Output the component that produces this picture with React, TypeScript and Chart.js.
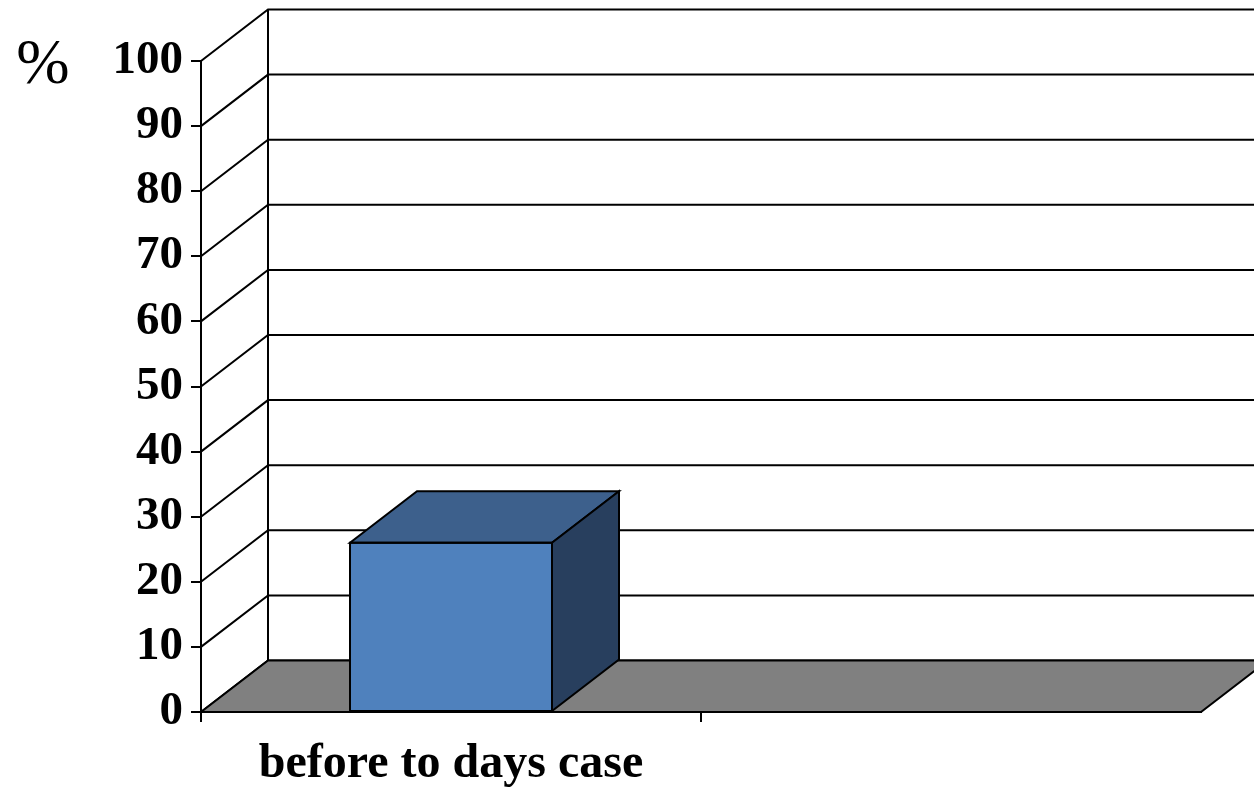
import React, { useEffect, useRef } from "react";
import { Chart, registerables } from "chart.js";

Chart.register(...registerables);

const categories = ["before to days case", ""];
const values: (number | null)[] = [26, null];
const yTickValues = [0, 10, 20, 30, 40, 50, 60, 70, 80, 90, 100];
const yUnit = "%";

const DX = 67;
const DY = -51.5;

const threeD = {
  id: "threeD",
  beforeDatasetsDraw(chart: any) {
    const { ctx, chartArea, scales } = chart;
    const y = scales.y;
    const left = chartArea.left;
    const right = chartArea.right;
    const y0 = y.getPixelForValue(0);
    const y100 = y.getPixelForValue(100);
    ctx.save();
    ctx.strokeStyle = "#000";
    ctx.lineWidth = 2;
    for (const v of yTickValues) {
      const yy = y.getPixelForValue(v);
      ctx.beginPath();
      ctx.moveTo(left, yy);
      ctx.lineTo(left + DX, yy + DY);
      ctx.lineTo(chart.width + 10, yy + DY);
      ctx.stroke();
    }
    ctx.beginPath();
    ctx.moveTo(left + DX, y0 + DY);
    ctx.lineTo(left + DX, y100 + DY);
    ctx.stroke();
    ctx.beginPath();
    ctx.moveTo(left, y0);
    ctx.lineTo(right, y0);
    ctx.lineTo(right + DX, y0 + DY);
    ctx.lineTo(left + DX, y0 + DY);
    ctx.closePath();
    ctx.fillStyle = "#808080";
    ctx.fill();
    ctx.stroke();
    ctx.fillStyle = "#000";
    ctx.font = "64px 'Liberation Serif'";
    ctx.textAlign = "center";
    ctx.textBaseline = "alphabetic";
    ctx.fillText(yUnit, 43, 83);
    ctx.restore();
  },
  afterDatasetsDraw(chart: any) {
    const { ctx } = chart;
    const meta = chart.getDatasetMeta(0);
    ctx.save();
    ctx.strokeStyle = "#000";
    ctx.lineWidth = 2;
    ctx.lineJoin = "miter";
    meta.data.forEach((el: any, i: number) => {
      if (values[i] === null || values[i] === undefined) return;
      const p = el.getProps(["x", "y", "base", "width"], true);
      const l = p.x - p.width / 2;
      const r = p.x + p.width / 2;
      const t = p.y;
      const b = p.base;
      ctx.beginPath();
      ctx.moveTo(l, t);
      ctx.lineTo(r, t);
      ctx.lineTo(r + DX, t + DY);
      ctx.lineTo(l + DX, t + DY);
      ctx.closePath();
      ctx.fillStyle = "#3D608C";
      ctx.fill();
      ctx.stroke();
      ctx.beginPath();
      ctx.moveTo(r, t);
      ctx.lineTo(r + DX, t + DY);
      ctx.lineTo(r + DX, b + DY);
      ctx.lineTo(r, b);
      ctx.closePath();
      ctx.fillStyle = "#283F5E";
      ctx.fill();
      ctx.stroke();
      ctx.strokeRect(l, t, r - l, b - t);
    });
    ctx.restore();
  },
};

export default function App() {
  const ref = useRef<HTMLCanvasElement | null>(null);
  useEffect(() => {
    document.body.style.margin = "0";
    const canvas = ref.current;
    if (!canvas) return;
    const chart = new Chart(canvas, {
      type: "bar",
      data: {
        labels: categories,
        datasets: [
          {
            data: values as any,
            backgroundColor: "#4F81BD",
            borderWidth: 0,
            categoryPercentage: 1,
            barPercentage: 0.404,
          },
        ],
      },
      options: {
        animation: false,
        responsive: false,
        devicePixelRatio: 1,
        layout: { padding: { top: 61, right: 53, left: 0, bottom: 0 } },
        plugins: { legend: { display: false }, tooltip: { enabled: false } },
        scales: {
          x: {
            offset: true,
            grid: {
              display: true,
              drawOnChartArea: false,
              drawTicks: true,
              tickLength: 10,
              lineWidth: 2,
              color: (c: any) => (c.type === "tick" ? "#000" : "rgba(0,0,0,0)"),
            },
            border: { display: true, color: "#000", width: 2 },
            ticks: {
              color: "#000",
              font: { family: "'Liberation Serif'", size: 48, weight: "bold" },
              padding: 14,
              maxRotation: 0,
              autoSkip: false,
            },
            afterFit: (s: any) => {
              s.height = 78;
            },
          },
          y: {
            min: 0,
            max: 100,
            grid: {
              display: true,
              drawOnChartArea: false,
              drawTicks: true,
              tickLength: 10,
              lineWidth: 2,
              color: "#000",
            },
            border: { display: true, color: "#000", width: 2 },
            ticks: {
              stepSize: 10,
              color: "#000",
              padding: 8,
              font: { family: "'Liberation Serif'", size: 47, weight: "bold" },
            },
            afterFit: (s: any) => {
              s.width = 201;
            },
          },
        },
      },
      plugins: [threeD],
    });
    return () => chart.destroy();
  }, []);
  return <canvas ref={ref} width={1254} height={790} style={{ display: "block" }} />;
}
